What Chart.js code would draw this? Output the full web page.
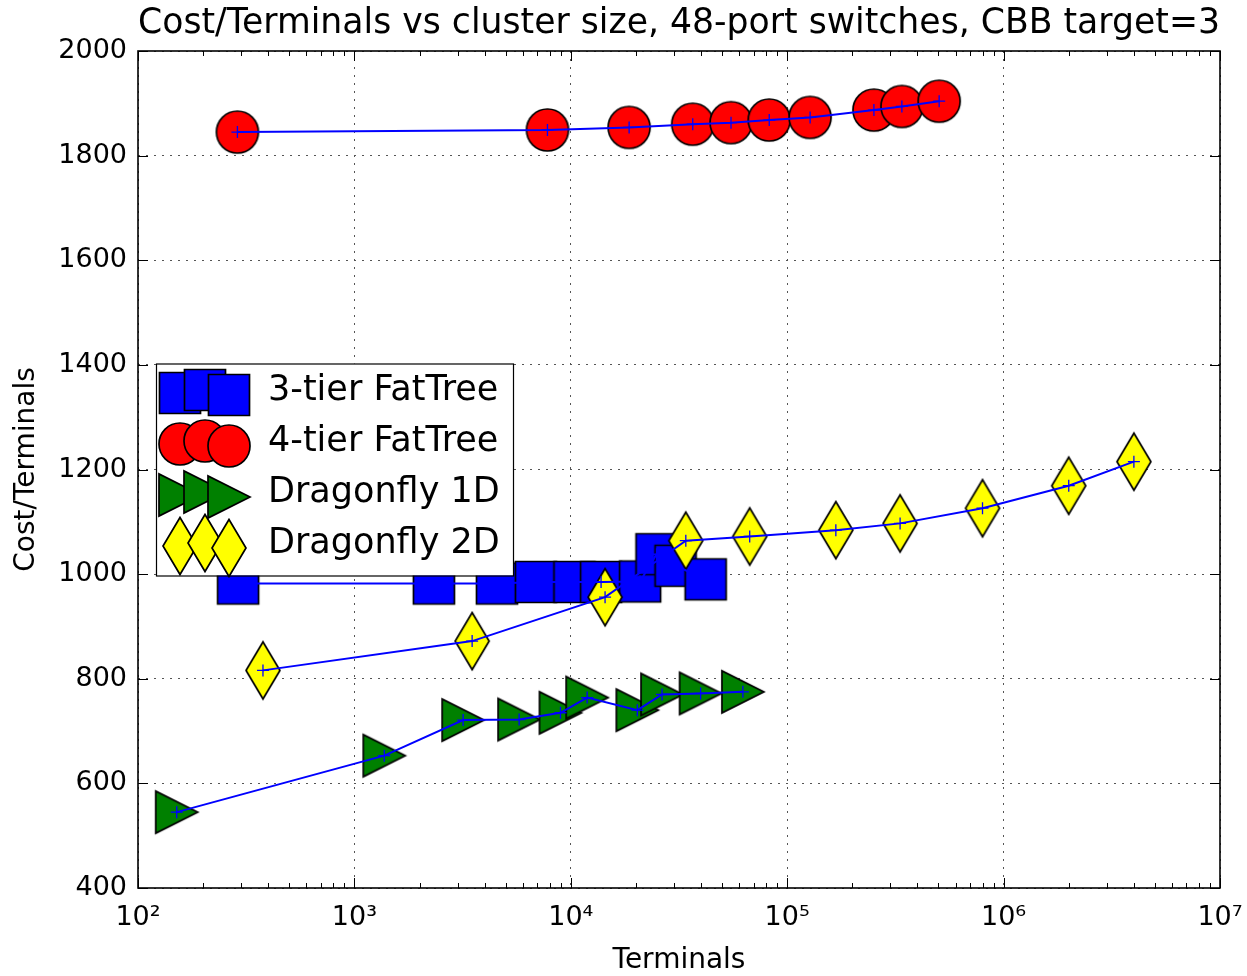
<!DOCTYPE html>
<html>
<head>
<meta charset="utf-8">
<title>Cost/Terminals vs cluster size</title>
<script src="https://cdn.jsdelivr.net/npm/chart.js@4.4.1/dist/chart.umd.min.js"></script>
<style>
  html, body { margin: 0; padding: 0; background: #ffffff; }
  #wrap { width: 1247px; height: 976px; }
</style>
</head>
<body>
<div id="wrap"><canvas id="chart" width="1247" height="976"></canvas></div>
<script>
// ---- data ----
const chartTitle = 'Cost/Terminals vs cluster size, 48-port switches, CBB target=3';
const seriesNames = ['3-tier FatTree', '4-tier FatTree', 'Dragonfly 1D', 'Dragonfly 2D'];

const fatTree3Terminals = [290, 2330, 4560, 6900, 10400, 13800, 20900, 24900, 30500, 42000];
const fatTree3Cost      = [982, 982, 982, 985, 985, 985, 986, 1038, 1016, 990];

const fatTree4Terminals = [288, 7800, 18600, 36600, 55000, 82600, 127600, 251600, 338800, 503700];
const fatTree4Cost      = [1845, 1849, 1854, 1860, 1863, 1868, 1873, 1887, 1894, 1904];

const dragonfly1DTerminals = [151, 1374, 3180, 5770, 8960, 11900, 20300, 26400, 39800, 62400];
const dragonfly1DCost      = [545, 653, 721, 722, 735, 764, 740, 770, 772, 775];

const dragonfly2DTerminals = [378, 3500, 14400, 34000, 67100, 167800, 332400, 799000, 2000000, 4000000];
const dragonfly2DCost      = [816, 872, 956, 1064, 1072, 1084, 1097, 1126, 1169, 1215];

const xTickDecades = [100, 1000, 10000, 100000, 1000000, 10000000];
const xTickLabels  = ['10\u00B2', '10\u00B3', '10\u2074', '10\u2075', '10\u2076', '10\u2077'];

// ---- styling ----
const FONT = "'DejaVu Sans', 'Liberation Sans', sans-serif";
const LINE_BLUE = '#0000ff';

function toPoints(xs, ys) {
  return xs.map((x, i) => ({ x: x, y: ys[i] }));
}

// Marker sprites (fill + black edge) used both on the plot and in the legend
function markerCanvas(shape, fill) {
  const dims = { square: [41, 41], circle: [42, 42], triangle: [42, 42], diamond: [34, 57] }[shape];
  const cw = dims[0] + 6, ch = dims[1] + 6;
  const c = document.createElement('canvas');
  c.width = cw % 2 ? cw + 1 : cw;
  c.height = ch % 2 ? ch + 1 : ch;
  const g = c.getContext('2d');
  const w = dims[0] / 2, h = dims[1] / 2, cx = c.width / 2, cy = c.height / 2;
  g.beginPath();
  if (shape === 'square') {
    g.rect(cx - w, cy - h, 2 * w, 2 * h);
  } else if (shape === 'circle') {
    g.arc(cx, cy, w, 0, Math.PI * 2);
  } else if (shape === 'triangle') {
    g.moveTo(cx + w, cy);
    g.lineTo(cx - w, cy - h);
    g.lineTo(cx - w, cy + h);
    g.closePath();
  } else {
    g.moveTo(cx, cy - h);
    g.lineTo(cx + w, cy);
    g.lineTo(cx, cy + h);
    g.lineTo(cx - w, cy);
    g.closePath();
  }
  g.fillStyle = fill;
  g.fill();
  g.lineWidth = 1.7;
  g.lineJoin = 'miter';
  g.strokeStyle = '#000000';
  g.stroke();
  return c;
}

const markers = [
  markerCanvas('square', '#0000ff'),
  markerCanvas('circle', '#ff0000'),
  markerCanvas('triangle', '#008000'),
  markerCanvas('diamond', '#ffff00')
];

const seriesX = [fatTree3Terminals, fatTree4Terminals, dragonfly1DTerminals, dragonfly2DTerminals];
const seriesY = [fatTree3Cost, fatTree4Cost, dragonfly1DCost, dragonfly2DCost];
const markerOrder = [4, 3, 2, 1];

const datasets = [];
seriesNames.forEach((name, i) => {
  datasets.push({
    label: name,
    data: toPoints(seriesX[i], seriesY[i]),
    showLine: false,
    pointStyle: markers[i],
    pointRadius: 21,
    pointHoverRadius: 21,
    order: markerOrder[i],
    isMarkerSet: true
  });
});
seriesNames.forEach((name, i) => {
  datasets.push({
    label: name + ' line',
    data: toPoints(seriesX[i], seriesY[i]),
    showLine: true,
    borderColor: LINE_BLUE,
    borderWidth: 2,
    pointStyle: 'cross',
    pointRadius: 6,
    pointHoverRadius: 6,
    pointBorderColor: LINE_BLUE,
    pointBorderWidth: 1.3,
    tension: 0,
    fill: false,
    order: 0,
    isMarkerSet: false
  });
});

function isDecade(v) {
  if (!(v > 0)) return false;
  const l = Math.log10(v);
  return Math.abs(l - Math.round(l)) < 1e-9;
}

// Axes frame with inward tick marks on all four sides
const framePlugin = {
  id: 'frameTicks',
  afterDatasetsDraw(chart) {
    const { ctx, chartArea: a, scales } = chart;
    const xs = scales.x, ys = scales.y;
    ctx.save();
    ctx.strokeStyle = '#000000';
    ctx.lineWidth = 1;
    ctx.beginPath();
    // x ticks: majors at decades, minors at 2..9 x decade
    for (let e = 2; e <= 7; e++) {
      for (let k = 1; k <= 9; k++) {
        const v = k * Math.pow(10, e);
        if (v > 1e7) break;
        const px = Math.round(xs.getPixelForValue(v)) + 0.5;
        const len = k === 1 ? 10 : 5;
        ctx.moveTo(px, a.bottom); ctx.lineTo(px, a.bottom - len);
        ctx.moveTo(px, a.top); ctx.lineTo(px, a.top + len);
      }
    }
    // y ticks at each labelled value
    ys.ticks.forEach(t => {
      const py = Math.round(ys.getPixelForValue(t.value)) + 0.5;
      ctx.moveTo(a.left, py); ctx.lineTo(a.left + 10, py);
      ctx.moveTo(a.right, py); ctx.lineTo(a.right - 10, py);
    });
    ctx.stroke();
    ctx.lineWidth = 1.6;
    ctx.strokeRect(a.left, a.top, a.right - a.left, a.bottom - a.top);
    ctx.restore();
  }
};

// Boxed legend, centred vertically at the left of the plot area, three markers per entry
const legendPlugin = {
  id: 'boxLegend',
  afterDatasetsDraw(chart) {
    const { ctx, chartArea: a } = chart;
    const entries = chart.data.datasets.filter(d => d.isMarkerSet);
    const boxW = 357, boxH = 212;
    const left = a.left + 18;
    const top = (a.top + a.bottom) / 2 - boxH / 2;
    ctx.save();
    ctx.fillStyle = '#ffffff';
    ctx.fillRect(left, top, boxW, boxH);
    ctx.strokeStyle = '#000000';
    ctx.lineWidth = 1.2;
    ctx.strokeRect(left + 0.5, top + 0.5, boxW, boxH);
    const markerDx = [24, 49, 73];
    const markerDy = [0.5, -2.5, 2.5];
    ctx.font = '35px ' + FONT;
    ctx.fillStyle = '#000000';
    ctx.textBaseline = 'middle';
    ctx.textAlign = 'left';
    entries.forEach((d, i) => {
      const rowY = top + 27 + i * 51;
      const img = d.pointStyle;
      markerDx.forEach((dx, j) => {
        const cx = left + dx, cy = rowY + 2 + markerDy[j];
        ctx.drawImage(img, Math.round(cx - img.width / 2), Math.round(cy - img.height / 2));
      });
      ctx.fillText(d.label, left + 112, rowY);
    });
    ctx.restore();
  }
};

new Chart(document.getElementById('chart'), {
  type: 'scatter',
  data: { datasets: datasets },
  plugins: [framePlugin, legendPlugin],
  options: {
    responsive: false,
    animation: false,
    devicePixelRatio: 1,
    layout: { padding: { left: 0, right: 27, top: 0, bottom: 0 } },
    plugins: {
      legend: { display: false },
      tooltip: { enabled: false },
      title: {
        display: true,
        text: chartTitle,
        fullSize: false,
        color: '#000000',
        font: { family: FONT, size: 35, weight: 'normal', lineHeight: 1.2 },
        padding: { top: 3, bottom: 6 }
      }
    },
    scales: {
      x: {
        type: 'logarithmic',
        position: 'bottom',
        min: 100,
        max: 10000000,
        afterFit(scale) {
          scale.height = 88;
          scale.paddingLeft = 0;
          scale.paddingRight = 0;
        },
        ticks: {
          autoSkip: false,
          maxRotation: 0,
          minRotation: 0,
          padding: 14,
          color: '#000000',
          font: { family: FONT, size: 27 },
          callback(value) {
            const idx = xTickDecades.findIndex(d => Math.abs(d - value) < 1e-6 * d);
            return idx >= 0 ? xTickLabels[idx] : '';
          }
        },
        grid: {
          drawTicks: false,
          lineWidth: 1,
          color(c) { return c.tick && isDecade(c.tick.value) ? '#555555' : 'rgba(0,0,0,0)'; }
        },
        border: { display: false, dash: [2, 6] },
        title: {
          display: true,
          text: 'Terminals',
          color: '#000000',
          font: { family: FONT, size: 28, lineHeight: 1 },
          padding: { top: 0, bottom: 1 }
        }
      },
      y: {
        type: 'linear',
        min: 400,
        max: 2000,
        afterFit(scale) { scale.width = 138; },
        ticks: {
          stepSize: 200,
          padding: 11,
          color: '#000000',
          font: { family: FONT, size: 27 },
          callback(value) { return String(value); }
        },
        grid: { drawTicks: false, lineWidth: 1, color: '#555555' },
        border: { display: false, dash: [2, 6] },
        title: {
          display: true,
          text: 'Cost/Terminals',
          color: '#000000',
          font: { family: FONT, size: 28, lineHeight: 1 },
          padding: { top: 12.5, bottom: 0 }
        }
      }
    }
  }
});
</script>
</body>
</html>
